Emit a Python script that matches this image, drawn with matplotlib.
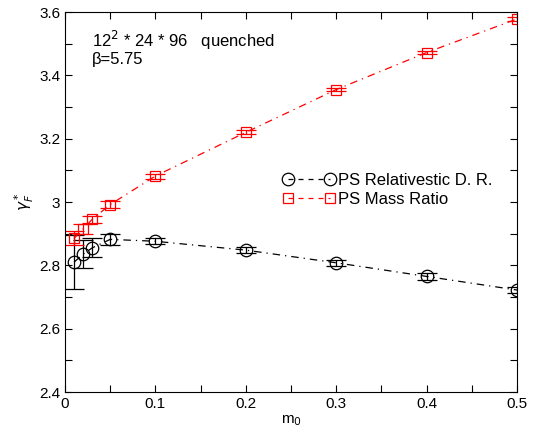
import numpy as np
import matplotlib
matplotlib.use("Agg")
import matplotlib.pyplot as plt
from matplotlib.lines import Line2D

plt.rcParams['font.family'] = ['Liberation Sans', 'DejaVu Sans']

# -------------------------------
# data
# -------------------------------
m0_rel = [0.01, 0.02, 0.03, 0.05, 0.1, 0.2, 0.3, 0.4, 0.5]
gam_rel = [2.81, 2.835, 2.855, 2.882, 2.876, 2.848, 2.808, 2.765, 2.722]
err_rel = [0.085, 0.045, 0.03, 0.017, 0.01, 0.01, 0.01, 0.01, 0.01]

m0_mass = [0.01, 0.02, 0.03, 0.05, 0.1, 0.2, 0.3, 0.4, 0.5]
gam_mass = [2.885, 2.915, 2.945, 2.992, 3.082, 3.22, 3.355, 3.472, 3.578]
err_mass = [0.022, 0.015, 0.012, 0.012, 0.008, 0.006, 0.006, 0.006, 0.006]

x_ticks = [0, 0.1, 0.2, 0.3, 0.4, 0.5]
x_labels = ["0", "0.1", "0.2", "0.3", "0.4", "0.5"]
y_ticks = [2.4, 2.6, 2.8, 3.0, 3.2, 3.4, 3.6]
y_labels = ["2.4", "2.6", "2.8", "3", "3.2", "3.4", "3.6"]

ls_dd = (0, (6, 4, 1, 4))

fig = plt.figure(figsize=(5.38, 4.36), dpi=100)
ax = fig.add_axes([65/538, 1 - 392/436, 452/538, 380/436])

ax.errorbar(m0_rel, gam_rel, yerr=err_rel, color="black", marker="o",
            markersize=9, mfc="none", mew=0.9, lw=0.9, elinewidth=0.9,
            capsize=7, capthick=0.9, linestyle=ls_dd)
ax.errorbar(m0_mass, gam_mass, yerr=err_mass, color="red", marker="s",
            markersize=7, mfc="none", mew=0.9, lw=0.9, elinewidth=0.9,
            capsize=7, capthick=0.9, linestyle=ls_dd)

ax.set_xlim(0, 0.5)
ax.set_ylim(2.4, 3.6)
ax.set_xticks(x_ticks)
ax.set_xticklabels(x_labels)
ax.set_xticks([0.05, 0.15, 0.25, 0.35, 0.45], minor=True)
ax.set_yticks(y_ticks)
ax.set_yticklabels(y_labels)
ax.set_yticks([2.5, 2.7, 2.9, 3.1, 3.3, 3.5], minor=True)
ax.tick_params(which="both", direction="in", top=True, right=True,
               length=5, width=0.8, labelsize=11)

ax.set_xlabel(r"m$_0$", fontsize=11, labelpad=2)
ax.set_ylabel(r"$\gamma_F^*$", fontsize=11, labelpad=2)

ax.text(0.06, 0.925, r"12$^2$ * 24 * 96   quenched", transform=ax.transAxes,
        fontsize=12, va="center")
ax.text(0.06, 0.875, "β=5.75", transform=ax.transAxes, fontsize=12, va="center")

handles = [
    Line2D([], [], color="black", marker="o", markersize=9, mfc="none",
           mew=0.9, lw=0.9, linestyle=(0, (4, 4))),
    Line2D([], [], color="red", marker="s", markersize=7, mfc="none",
           mew=0.9, lw=0.9, linestyle=(0, (4, 4))),
]
ax.legend(handles, ["PS Relativestic D. R.", "PS Mass Ratio"],
          loc="upper left", bbox_to_anchor=(0.45, 0.615), frameon=False,
          numpoints=2, handlelength=3.1, fontsize=12, handletextpad=0.15,
          labelspacing=0.2)

fig.savefig("out.png", dpi=100)
